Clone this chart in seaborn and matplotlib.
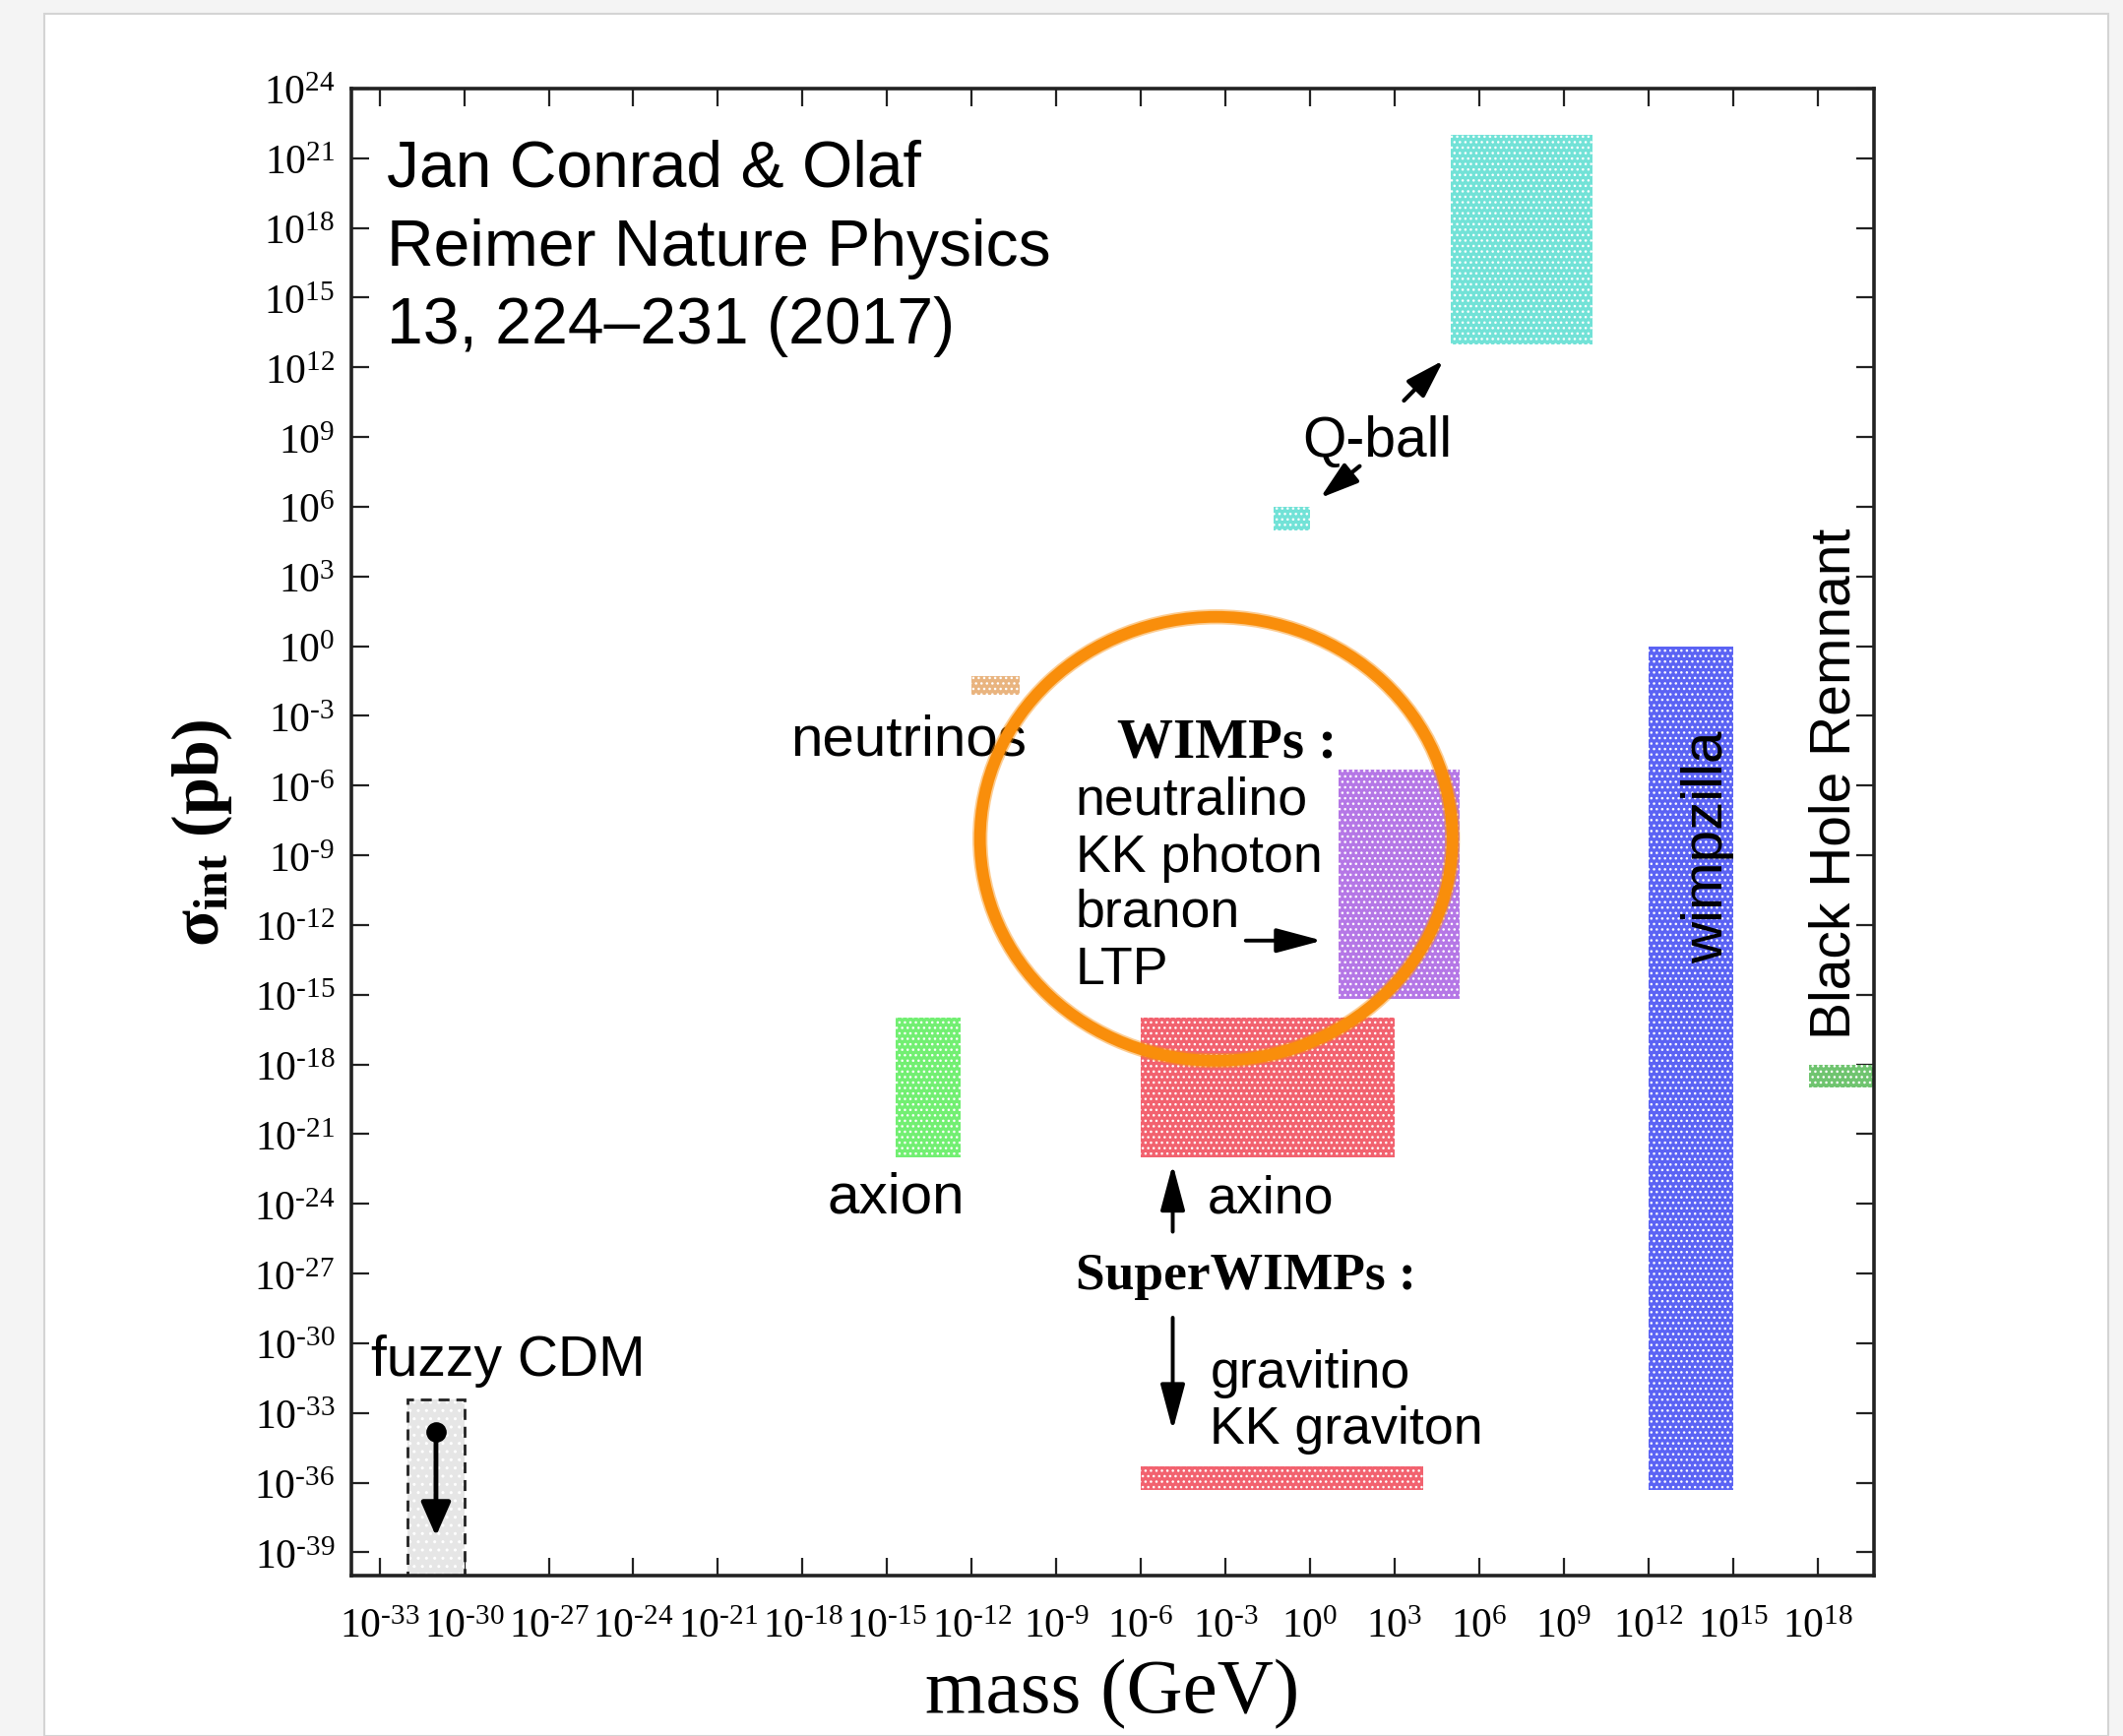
import numpy as np
import matplotlib.pyplot as plt
import matplotlib.patheffects as pe
import seaborn as sns
from matplotlib.patches import Rectangle, Ellipse

# Region data: log10 of mass (GeV) and cross-section (pb)
regions = ["Q-ball", "Q-ball small", "neutrinos", "WIMPs", "axion",
           "axino", "gravitino", "wimpzilla", "Black Hole Remnant"]
mass_lo = [5.0, -1.3, -12.0, 1.0, -14.7, -6.0, -6.0, 12.0, 17.7]
mass_hi = [10.0, 0.0, -10.3, 5.3, -12.4, 3.0, 4.0, 15.0, 19.95]
sigma_lo = [13.0, 5.0, -2.1, -15.2, -22.0, -22.0, -36.3, -36.3, -19.0]
sigma_hi = [22.0, 6.0, -1.3, -5.3, -16.0, -16.0, -35.3, 0.0, -18.0]
region_colors = ["#72e2d7", "#72e2d7", "#e9b47f", "#b577e6", "#72ef72",
                 "#f2626f", "#f2626f", "#5b63f4", "#6fc46f"]

# fuzzy CDM upper-limit box
fuzzy_mass = [-32.0, -30.0]
fuzzy_sigma = [-40.0, -32.4]
fuzzy_arrow = [(-31.0, -33.8), (-31.0, -38.3)]

# sans-serif labels: text, x, y, size, halign
labels = ["Q-ball", "neutrinos", "axion", "fuzzy CDM", "axino",
          "gravitino", "KK graviton", "neutralino", "KK photon", "branon", "LTP"]
label_x = [2.37, -14.22, -14.7, -33.3, -3.64, -3.55, -3.55, -8.32, -8.32, -8.32, -8.32]
label_y = [8.2, -4.67, -24.35, -31.37, -24.35, -31.85, -34.3, -7.2, -9.66, -12.03, -14.5]
label_size = [41, 42, 42, 41, 38.7, 38.7, 38.7, 38.7, 38.7, 38.7, 38.7]
label_ha = ["center", "center", "center", "left", "left", "left", "left",
            "left", "left", "left", "left"]

# arrows (tail -> head), log10 coordinates
qball_arrows = [((3.33, 10.57), (4.73, 12.3)),
                ((1.76, 7.75), (0.36, 6.38))]
arrows = [((-2.28, -12.67), (0.43, -12.67)),
          ((-4.87, -25.2), (-4.87, -22.3)),
          ((-4.87, -28.9), (-4.87, -33.75))]

credit = ["Jan Conrad & Olaf", "Reimer Nature Physics", "13, 224\u2013231 (2017)"]
credit_y = [0.9345, 0.8815, 0.8293]

xt = np.arange(-33, 19, 3)
yt = np.arange(-39, 25, 3)


def pow_label(e):
    # plain hyphen like the original, not a math minus
    if e < 0:
        return rf"$10^{{\text{{-}}{abs(e)}}}$"
    return rf"$10^{{{e}}}$"


sns.set_style("ticks")
plt.rcParams.update({
    "font.family": ["Liberation Sans", "DejaVu Sans"],
    "mathtext.fontset": "custom",
    "mathtext.rm": "Liberation Serif",
    "mathtext.it": "Liberation Serif:italic",
    "mathtext.bf": "Liberation Serif:bold",
    "hatch.linewidth": 1.0,
    "text.color": "black",
    "axes.labelcolor": "black",
})

W, H = 2157, 1765
fig = plt.figure(figsize=(W / 100, H / 100), dpi=100, facecolor="#f4f4f4")
card = Rectangle((45 / W, 0), (2142 - 45) / W, (H - 15) / H, transform=fig.transFigure,
                 facecolor="white", edgecolor="#d4d4d4", lw=1.5, zorder=-10)
fig.patches.append(card)

ax = fig.add_axes([357 / W, 1 - 1602 / H, 1547 / W, 1511 / H])
ax.set_facecolor("white")
ax.set_xscale("log")
ax.set_yscale("log")
ax.set_xlim(1e-34, 1e20)
ax.set_ylim(1e-40, 1e24)

for name, x0, x1, y0, y1, c in zip(regions, mass_lo, mass_hi, sigma_lo, sigma_hi, region_colors):
    ax.add_patch(Rectangle((10**x0, 10**y0), 10**x1 - 10**x0, 10**y1 - 10**y0,
                           facecolor=c, edgecolor="white", lw=0, hatch="...", zorder=2))

# fuzzy CDM box
fx0, fx1 = fuzzy_mass
fy0, fy1 = fuzzy_sigma
ax.add_patch(Rectangle((10**fx0, 10**fy0), 10**fx1 - 10**fx0, 10**fy1 - 10**fy0,
                       facecolor="#e6e6e6", edgecolor="white", lw=0, hatch="..", zorder=2))
ax.add_patch(Rectangle((10**fx0, 10**fy0), 10**fx1 - 10**fx0, 10**fy1 - 10**fy0,
                       fill=False, edgecolor="#222222", lw=2, ls=(0, (4, 2.5)), zorder=3))
(ax0, ay0), (ax1, ay1) = fuzzy_arrow
ax.annotate("", xy=(10**ax1, 10**ay1), xytext=(10**ax0, 10**ay0),
            arrowprops=dict(arrowstyle="-|>,head_length=0.5,head_width=0.22", color="black",
                            lw=3.5, mutation_scale=42, shrinkA=0, shrinkB=0), zorder=4)
sns.scatterplot(x=[10**ax0], y=[10**ay0], ax=ax, s=190, color="black", marker="o",
                edgecolor="black", zorder=5, legend=False)

for (t0, t1) in qball_arrows:
    ax.annotate("", xy=(10**t1[0], 10**t1[1]), xytext=(10**t0[0], 10**t0[1]),
                arrowprops=dict(arrowstyle="-|>,head_length=0.7,head_width=0.22", color="black",
                                lw=3.0, mutation_scale=34, shrinkA=0, shrinkB=0), zorder=4)
for (t0, t1) in arrows:
    ax.annotate("", xy=(10**t1[0], 10**t1[1]), xytext=(10**t0[0], 10**t0[1]),
                arrowprops=dict(arrowstyle="-|>,head_length=0.75,head_width=0.2", color="black",
                                lw=2.8, mutation_scale=38, shrinkA=0, shrinkB=0), zorder=4)

for t, x, y, s, ha in zip(labels, label_x, label_y, label_size, label_ha):
    ax.text(10**x, 10**y, t, fontsize=s, ha=ha, va="baseline", color="black", zorder=5)

serif_bold = dict(family=["Liberation Serif", "DejaVu Serif"], fontweight="bold", color="black")
ax.text(10**-2.96, 10**-4.75, "WIMPs :", fontsize=41, ha="center", va="baseline", zorder=5, **serif_bold)
ax.text(10**-2.29, 10**-27.65, "SuperWIMPs :", fontsize=38.5, ha="center", va="baseline", zorder=5, **serif_bold)

ax.text(10**14.12, 10**-8.6, "wimpzilla", fontsize=42, rotation=90, ha="center", va="center", zorder=5)
ax.text(10**18.62, 10**-5.87, "Black Hole Remnant", fontsize=41, rotation=90,
        ha="center", va="center", zorder=5)

for t, y in zip(credit, credit_y):
    ax.text(0.0233, y, t, transform=ax.transAxes, fontsize=47.5, ha="left", va="baseline",
            color="black", zorder=5)

# orange highlight ring with a soft, marker-like edge
ring = Ellipse((0.568, 0.4955), 0.3103, 0.2985, transform=ax.transAxes, fill=False,
               edgecolor="#f98e0b", lw=8.5, zorder=7)
ring.set_path_effects([pe.Stroke(linewidth=11, foreground="#f98e0b", alpha=0.45), pe.Normal()])
ax.add_patch(ring)

ax.set_xticks(10.0**xt)
ax.set_xticklabels([pow_label(e) for e in xt])
ax.set_yticks(10.0**yt)
ax.set_yticklabels([pow_label(e) for e in yt])
ax.minorticks_off()
ax.tick_params(which="major", direction="in", length=13, width=1.6, top=True, right=True,
               labelsize=30, color="#222222", labelcolor="black")
ax.tick_params(axis="x", pad=22)
ax.tick_params(axis="y", pad=12)
for sp in ax.spines.values():
    sp.set_linewidth(2.6)
    sp.set_color("#222222")

ax.set_xlabel("mass (GeV)", fontsize=57, family=["Liberation Serif", "DejaVu Serif"], color="black")
ax.xaxis.set_label_coords(0.5, -0.0913)
ax.xaxis.label.set_va("baseline")
ax.set_ylabel(r"σ$_{\mathbf{int}}$ (pb)", fontsize=49, fontweight="bold",
              family=["Liberation Serif", "DejaVu Serif"], color="black")
ax.yaxis.set_label_coords(-0.077, 0.5)

fig.savefig("out.png", dpi=100, facecolor=fig.get_facecolor())
